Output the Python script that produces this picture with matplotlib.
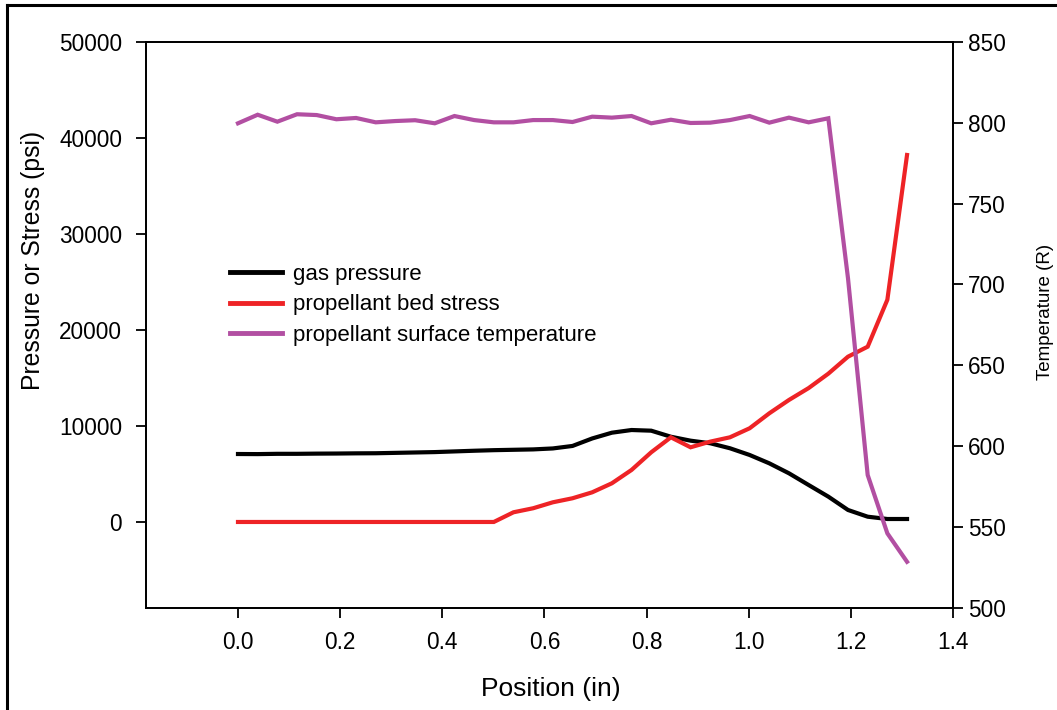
import numpy as np
import matplotlib
matplotlib.use("Agg")
import matplotlib.pyplot as plt
from matplotlib.lines import Line2D

plt.rcParams['font.family'] = ['Liberation Sans', 'DejaVu Sans']

# Position along the bed (in), 35 stations
position = np.linspace(0.0, 1.31, 35)

gas_pressure = [7080, 7070, 7100, 7100, 7120, 7130, 7150, 7160, 7200, 7240,
                7280, 7350, 7420, 7480, 7520, 7560, 7660, 7920, 8700, 9300,
                9580, 9510, 8880, 8470, 8200, 7680, 6980, 6110, 5070, 3850,
                2640, 1250, 550, 310, 310]

bed_stress = [0, 0, 0, 0, 0, 0, 0, 0, 0, 0,
              0, 0, 0, 0, 1010, 1430, 2050, 2470, 3090, 4030,
              5420, 7260, 8820, 7780, 8370, 8820, 9760, 11320, 12710, 13950,
              15450, 17220, 18260, 23150, 38230]

surface_temp = [799.7, 805.0, 800.7, 805.3, 804.8, 802.2, 803.0, 800.3, 801.1, 801.6,
                799.7, 804.2, 801.7, 800.3, 800.3, 801.7, 801.7, 800.5, 803.8, 803.2,
                804.2, 799.7, 801.9, 799.9, 800.1, 801.7, 804.2, 800.1, 803.2, 800.3,
                802.8, 703.8, 582.1, 546.0, 528.4]

x_ticks = [0.0, 0.2, 0.4, 0.6, 0.8, 1.0, 1.2, 1.4]
left_ticks = [0, 10000, 20000, 30000, 40000, 50000]
right_ticks = [500, 550, 600, 650, 700, 750, 800, 850]

W, H = 1057, 710
fig = plt.figure(figsize=(W / 100, H / 100), dpi=100)
ax = fig.add_axes([145.7 / W, 1 - 607.7 / H, (953 - 145.7) / W, (607.7 - 42) / H])
ax2 = ax.twinx()

lw = 3.0
l1, = ax.plot(position, gas_pressure, color='black', lw=lw, solid_joinstyle='miter')
l2, = ax.plot(position, bed_stress, color='#EE2326', lw=lw, solid_joinstyle='miter')
l3, = ax2.plot(position, surface_temp, color='#B24FA2', lw=lw, solid_joinstyle='miter')

ax.set_xlim(-0.1807, 1.4)
ax.set_ylim(-8930, 50000)
ax2.set_ylim(500, 850)

ax.set_xticks(x_ticks)
ax.set_xticklabels([f"{v:.1f}" for v in x_ticks])
ax.set_yticks(left_ticks)
ax.set_yticklabels([str(v) for v in left_ticks])
ax2.set_yticks(right_ticks)
ax2.set_yticklabels([str(v) for v in right_ticks])

for a in (ax, ax2):
    for s in a.spines.values():
        s.set_linewidth(1.3)
    a.tick_params(direction='out', length=7, width=1.3, labelsize=16.3, pad=5)
ax.tick_params(axis='x', pad=10)
ax.tick_params(axis='y', pad=10)
ax2.tick_params(axis='y', pad=4)

# Axis titles placed in figure pixels
def px(x, y):
    return x / W, 1 - y / H

fig.text(*px(551, 689), "Position (in)", fontsize=19, ha='center', va='center')
fig.text(*px(33, 260), "Pressure or Stress (psi)", fontsize=17.8, rotation=90,
         ha='center', va='center')
fig.text(*px(1045, 312), "Temperature (R)", fontsize=13.5, rotation=90,
         ha='center', va='center')

leg = ax.legend([l1, l2, l3],
                ["gas pressure", "propellant bed stress", "propellant surface temperature"],
                loc='upper left',
                bbox_to_anchor=((230 - 145.7) / (953 - 145.7), 1 - (264 - 42) / (607.7 - 42)),
                frameon=False, fontsize=16, handlelength=2.35, handletextpad=0.5,
                labelspacing=0.42, borderpad=0, borderaxespad=0)
for ln in leg.get_lines():
    ln.set_linewidth(3.5)

# Outer frame along the left and top edges
fig.add_artist(Line2D([7 / W, 7 / W], [0, 1 - 5 / H], color='black', lw=2.2, transform=fig.transFigure))
fig.add_artist(Line2D([7 / W, 1], [1 - 5 / H, 1 - 5 / H], color='black', lw=2.2, transform=fig.transFigure))

fig.savefig("out.png", dpi=100)
